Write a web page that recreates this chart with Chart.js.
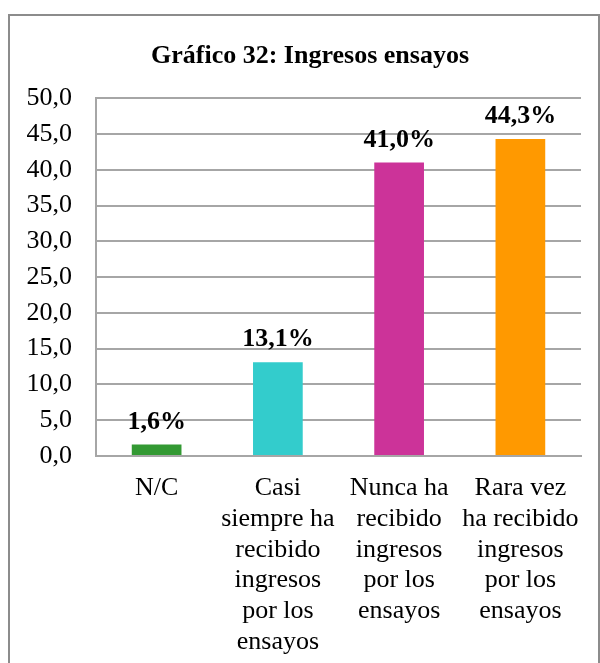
<!DOCTYPE html>
<html>
<head>
<meta charset="utf-8">
<script src="https://cdn.jsdelivr.net/npm/chart.js@4"></script>
<style>
    body { margin: 0; background: #fff; }
    #wrap { position: relative; width: 600px; height: 663px; overflow: hidden; }
    #frame {
        position: absolute; left: 8px; top: 14px; width: 588px; height: 700px;
        border: 2px solid #8c8c8c; pointer-events: none;
    }
    canvas { position: absolute; left: 0; top: 0; }
</style>
</head>
<body>
<div id="wrap">
    <canvas id="myChart" width="600" height="663"></canvas>
    <div id="frame"></div>
</div>
<script>
const categories = [
    ['N/C'],
    ['Casi', 'siempre ha', 'recibido', 'ingresos', 'por los', 'ensayos'],
    ['Nunca ha', 'recibido', 'ingresos', 'por los', 'ensayos'],
    ['Rara vez', 'ha recibido', 'ingresos', 'por los', 'ensayos']
];
const percentages = [1.6, 13.1, 41.0, 44.3];
const barColors = ['#339933', '#33CCCC', '#CC3399', '#FF9900'];
const yTicks = [0, 5, 10, 15, 20, 25, 30, 35, 40, 45, 50];

const fontFamily = '"Liberation Serif", "Times New Roman", serif';
const gridColor = '#a6a6a6';

function formatComma(value) {
    return Number(value).toFixed(1).replace('.', ',');
}

// draw "xx,x%" above each bar
const valueLabels = {
    id: 'valueLabels',
    afterDatasetsDraw(chart) {
        const ctx = chart.ctx;
        const meta = chart.getDatasetMeta(0);
        ctx.save();
        ctx.font = 'bold 26px ' + fontFamily;
        ctx.fillStyle = '#000';
        ctx.textAlign = 'center';
        ctx.textBaseline = 'alphabetic';
        meta.data.forEach(function (bar, i) {
            const value = chart.data.datasets[0].data[i];
            ctx.fillText(formatComma(value) + '%', bar.x, bar.y - 16);
        });
        ctx.restore();
    }
};

// y tick labels are wider than the axis box, widen the clip area to the left edge
const widenYLabels = {
    id: 'widenYLabels',
    afterLayout(chart) {
        chart.scales.y.left = 0;
    }
};

const ctx = document.getElementById('myChart');
const myChart = new Chart(ctx, {
    type: 'bar',
    data: {
        labels: categories,
        datasets: [{
            data: percentages,
            backgroundColor: barColors,
            borderWidth: 0,
            barPercentage: 0.41,
            categoryPercentage: 1
        }]
    },
    options: {
        responsive: false,
        animation: false,
        layout: {
            padding: { left: 39, right: 19, top: 0, bottom: 0 }
        },
        plugins: {
            legend: { display: false },
            tooltip: { enabled: false },
            title: {
                display: true,
                text: 'Gráfico 32: Ingresos ensayos',
                color: '#000',
                font: { family: fontFamily, size: 26, weight: 'bold', lineHeight: 1.2 },
                padding: { top: 41, bottom: 26 }
            }
        },
        scales: {
            x: {
                grid: { display: false, drawTicks: false },
                border: { display: true, color: gridColor, width: 2 },
                ticks: {
                    color: '#000',
                    maxRotation: 0,
                    autoSkip: false,
                    padding: 17,
                    font: { family: fontFamily, size: 26, lineHeight: 1.18 }
                },
                afterFit: function (scale) {
                    scale.height = 207;
                }
            },
            y: {
                min: 0,
                max: 50,
                afterBuildTicks: function (scale) {
                    scale.ticks = yTicks.map(v => ({ value: v }));
                },
                grid: { color: gridColor, lineWidth: 2, drawTicks: false },
                border: { display: true, color: gridColor, width: 2 },
                ticks: {
                    color: '#000',
                    padding: 24,
                    font: { family: fontFamily, size: 26 },
                    callback: function (val) {
                        return formatComma(val);
                    }
                },
                afterFit: function (scale) {
                    scale.width = 57;
                }
            }
        }
    },
    plugins: [valueLabels, widenYLabels]
});
</script>
</body>
</html>
